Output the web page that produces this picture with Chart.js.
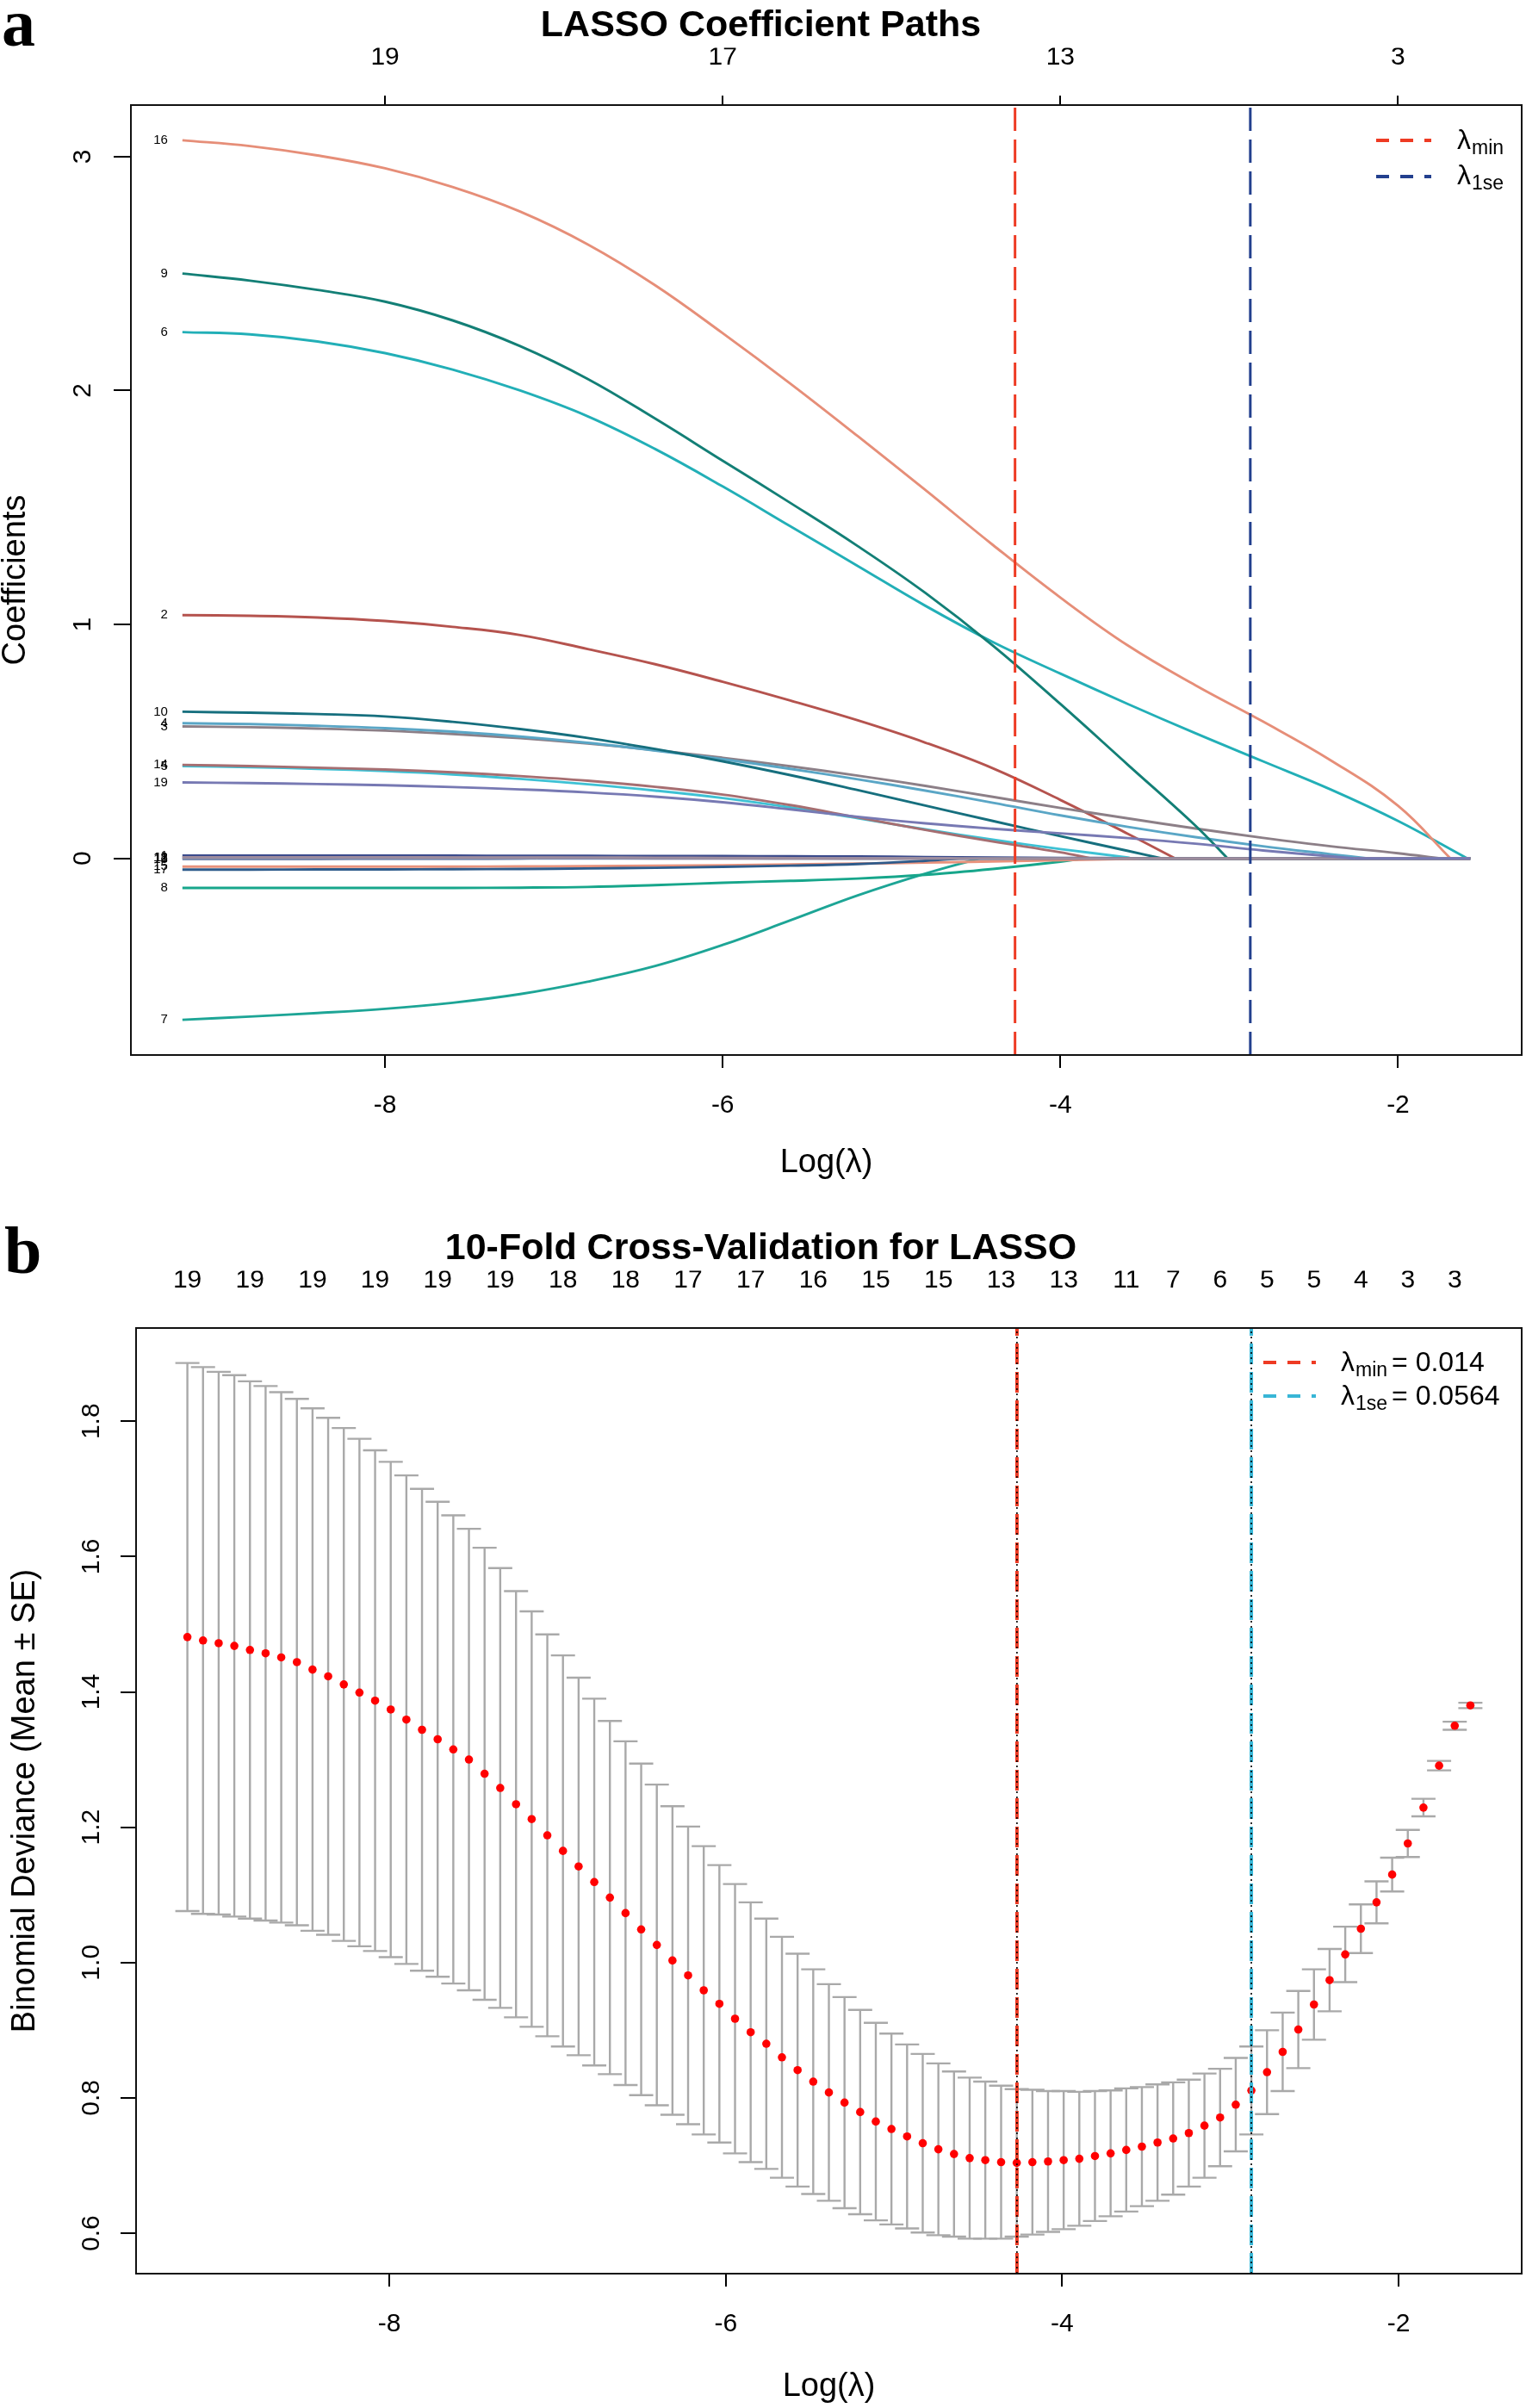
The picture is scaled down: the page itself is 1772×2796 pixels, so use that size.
<!DOCTYPE html>
<html>
<head>
<meta charset="utf-8">
<script src="https://cdn.jsdelivr.net/npm/chart.js@4.4.1/dist/chart.umd.min.js"></script>
<style>
html,body{margin:0;padding:0;background:#fff;}
body{width:1772px;height:2796px;position:relative;overflow:hidden;}
#wa{position:absolute;left:0;top:0;width:1772px;height:1400px;}
#wb{position:absolute;left:0;top:1400px;width:1772px;height:1396px;}
canvas{display:block;}
</style>
</head>
<body>
<div id="wa"><canvas id="ca" width="1772" height="1400" style="width:1772px;height:1400px"></canvas></div>
<div id="wb"><canvas id="cb" width="1772" height="1396" style="width:1772px;height:1396px"></canvas></div>
<script>
// ================= DATA: panel a (coefficient paths) =================
const pathKnotsLog = [-9.2,-8.8,-8.4,-8.0,-7.6,-7.2,-6.8,-6.4,-6.0,-5.6,-5.2,-4.8,-4.4,-4.0,-3.6,-3.2,-2.8,-2.4,-2.0];
const pathEndLog = -1.573;
const varNames = ['1','2','3','4','5','6','7','8','9','10','11','12','13','14','15','16','17','18','19'];
const varZeroLog = [-3.45,-3.32,-1.75,-2.18,-3.58,-1.59,-4.48,-3.87,-3.01,-3.40,-5.7,-6.4,-7.1,-3.82,-3.50,-1.69,-4.6,-5.3,-2.26];
const coefV1  = [0.012,0.012,0.012,0.012,0.012,0.011,0.011,0.010,0.010,0.009,0.008,0.006,0.004,0.002,0.001];
const coefV2  = [1.04,1.037,1.03,1.015,0.99,0.955,0.895,0.83,0.755,0.675,0.59,0.495,0.385,0.25,0.105];
const coefV3  = [0.564,0.561,0.555,0.546,0.532,0.514,0.491,0.463,0.43,0.394,0.354,0.31,0.263,0.216,0.171,0.128,0.088,0.052,0.022];
const coefV4  = [0.578,0.574,0.567,0.557,0.542,0.521,0.494,0.461,0.424,0.383,0.338,0.29,0.238,0.184,0.135,0.091,0.052,0.018];
const coefV5  = [0.395,0.390,0.383,0.373,0.359,0.34,0.317,0.29,0.258,0.218,0.172,0.124,0.08,0.04,0.004];
const coefV6  = [2.25,2.24,2.21,2.16,2.09,2.00,1.89,1.75,1.59,1.42,1.25,1.08,0.925,0.79,0.66,0.535,0.415,0.295,0.16];
const coefV7  = [-0.69,-0.676,-0.661,-0.643,-0.617,-0.58,-0.527,-0.46,-0.37,-0.265,-0.158,-0.065];
const coefV8  = [-0.126,-0.126,-0.126,-0.126,-0.126,-0.125,-0.122,-0.114,-0.104,-0.096,-0.086,-0.07,-0.045,-0.014];
const coefV9  = [2.50,2.47,2.43,2.38,2.30,2.19,2.05,1.88,1.70,1.52,1.335,1.135,0.91,0.66,0.40,0.14];
const coefV10 = [0.627,0.623,0.617,0.607,0.584,0.553,0.515,0.468,0.415,0.356,0.292,0.226,0.16,0.095,0.032];
const coefV11 = [0.002,0.002,0.002,0.002,0.002,0.002,0.002,0.001,0.001];
const coefV12 = [0.003,0.003,0.003,0.003,0.002,0.002,0.001];
const coefV13 = [-0.003,-0.003,-0.003,-0.002,-0.002,-0.001];
const coefV14 = [0.400,0.395,0.388,0.380,0.368,0.352,0.332,0.306,0.273,0.228,0.175,0.122,0.072,0.026];
const coefV15 = [-0.035,-0.035,-0.035,-0.035,-0.035,-0.034,-0.033,-0.031,-0.029,-0.026,-0.022,-0.018,-0.013,-0.008,-0.002];
const coefV16 = [3.07,3.045,3.005,2.95,2.87,2.765,2.625,2.45,2.245,2.03,1.805,1.575,1.34,1.115,0.91,0.74,0.585,0.42,0.225];
const coefV17 = [-0.048,-0.048,-0.047,-0.047,-0.046,-0.045,-0.043,-0.040,-0.036,-0.031,-0.024,-0.010];
const coefV18 = [0.005,0.005,0.005,0.005,0.004,0.004,0.004,0.003,0.002,0.001];
const coefV19 = [0.325,0.322,0.318,0.313,0.305,0.295,0.282,0.264,0.24,0.21,0.178,0.15,0.127,0.107,0.087,0.063,0.034,0.009];
const coefPaths = [coefV1,coefV2,coefV3,coefV4,coefV5,coefV6,coefV7,coefV8,coefV9,coefV10,
                   coefV11,coefV12,coefV13,coefV14,coefV15,coefV16,coefV17,coefV18,coefV19];
const coefXTicks = [-8,-6,-4,-2];
const coefTopLabels = ['19','17','13','3'];
const coefYTicks = [0,1,2,3];

// ================= DATA: panel b (10-fold CV) =================
const cvLogLambda = [-1.573,-1.666,-1.759,-1.852,-1.945,-2.038,-2.131,-2.224,-2.317,-2.410,
  -2.503,-2.596,-2.689,-2.782,-2.875,-2.968,-3.061,-3.154,-3.247,-3.340,
  -3.433,-3.526,-3.619,-3.712,-3.805,-3.898,-3.991,-4.084,-4.177,-4.270,
  -4.363,-4.457,-4.550,-4.643,-4.736,-4.829,-4.922,-5.015,-5.108,-5.201,
  -5.294,-5.387,-5.480,-5.573,-5.666,-5.759,-5.852,-5.945,-6.038,-6.131,
  -6.224,-6.317,-6.410,-6.503,-6.596,-6.689,-6.782,-6.875,-6.968,-7.061,
  -7.154,-7.247,-7.341,-7.434,-7.527,-7.620,-7.713,-7.806,-7.899,-7.992,
  -8.085,-8.178,-8.271,-8.364,-8.457,-8.550,-8.643,-8.736,-8.829,-8.922,
  -9.015,-9.108,-9.201];
const cvMean = [1.380,1.350,1.291,1.229,1.176,1.130,1.089,1.050,1.012,0.974,
  0.938,0.901,0.868,0.838,0.811,0.790,0.771,0.759,0.748,0.740,
  0.734,0.728,0.723,0.718,0.714,0.710,0.708,0.706,0.705,0.704,
  0.705,0.708,0.711,0.717,0.724,0.733,0.743,0.754,0.765,0.779,
  0.793,0.808,0.824,0.841,0.860,0.880,0.897,0.917,0.939,0.959,
  0.981,1.003,1.026,1.049,1.073,1.096,1.119,1.142,1.165,1.188,
  1.212,1.234,1.258,1.279,1.300,1.315,1.330,1.344,1.359,1.374,
  1.387,1.399,1.411,1.423,1.433,1.444,1.451,1.457,1.462,1.468,
  1.472,1.476,1.481];
const cvSE = [0.004,0.006,0.007,0.013,0.020,0.025,0.031,0.036,0.041,0.046,
  0.052,0.057,0.058,0.062,0.065,0.069,0.072,0.077,0.079,0.083,
  0.086,0.088,0.091,0.093,0.096,0.099,0.102,0.104,0.107,0.109,
  0.113,0.116,0.119,0.122,0.127,0.132,0.136,0.141,0.146,0.151,
  0.156,0.160,0.166,0.172,0.178,0.185,0.192,0.199,0.205,0.213,
  0.220,0.228,0.237,0.245,0.254,0.261,0.271,0.279,0.289,0.297,
  0.307,0.315,0.325,0.334,0.341,0.346,0.351,0.356,0.361,0.366,
  0.370,0.375,0.379,0.382,0.386,0.389,0.392,0.395,0.397,0.400,
  0.401,0.404,0.405];
const cvTopTickIndex = [82,78,74,70,66,62,58,54,50,46,42,38,34,30,26,22,19,16,13,10,7,4,1];
const cvTopTickLabels = ['19','19','19','19','19','19','18','18','17','17','16','15','15','13','13','11','7','6','5','5','4','3','3'];
const cvXTicks = [-8,-6,-4,-2];
const cvYTicks = [0.6,0.8,1.0,1.2,1.4,1.6,1.8];
const lambdaMin = 0.014;
const lambda1se = 0.0564;

// ================= STYLE =================
const SANS = '"Liberation Sans", Arial, Helvetica, sans-serif';
const SERIF = '"Liberation Serif", "Times New Roman", Times, serif';
const varColors = ['#3B4B8C','#B5534E','#8C7F87','#5AA6C6','#3EC1D4','#22AFB7','#1DA596','#17A68B','#137F76','#166F7E',
                   '#6A9CB6','#D7A3A3','#7C8AAE','#A66E71','#E8927C','#E68E78','#2E5B8B','#9E8C9D','#7779B3'];
Chart.defaults.font.family = SANS;
Chart.defaults.color = '#000';

// R-style 4% range extension
function rRange(lo, hi) { const d = (hi - lo) * 0.04; return [lo - d, hi + d]; }

// ---------- panel a datasets ----------
const datasetsA = [];
coefPaths.forEach((vals, k) => {
  const z = varZeroLog[k];
  const pts = [];
  pathKnotsLog.forEach((x, j) => { if (x < z && j < vals.length) pts.push({ x: x, y: vals[j] }); });
  pts.push({ x: z, y: 0 });
  datasetsA.push({ data: pts, borderColor: varColors[k], borderWidth: 2.9, pointRadius: 0, fill: false,
    tension: 0.4, order: 100 - k });
  datasetsA.push({ data: [{ x: z, y: 0 }, { x: pathEndLog, y: 0 }], borderColor: varColors[k], borderWidth: 2.9,
    pointRadius: 0, fill: false, tension: 0, order: 100 - k });
});
const allCoef = [].concat(...coefPaths, [0]);
const xRangeA = rRange(Math.min(...pathKnotsLog), pathEndLog);
const yRangeA = rRange(Math.min(...allCoef), Math.max(...allCoef));

// ---------- helpers ----------
function drawBox(ctx, a) {
  ctx.save(); ctx.strokeStyle = '#111'; ctx.lineWidth = 2;
  ctx.strokeRect(a.left, a.top, a.right - a.left, a.bottom - a.top); ctx.restore();
}
function drawRotYLabels(ctx, yScale, values, fmt, baseX) {
  ctx.save(); ctx.font = '30px ' + SANS; ctx.fillStyle = '#000';
  ctx.textAlign = 'center'; ctx.textBaseline = 'alphabetic';
  values.forEach(v => {
    const py = yScale.getPixelForValue(v);
    ctx.save(); ctx.translate(baseX, py); ctx.rotate(-Math.PI / 2); ctx.fillText(fmt(v), 0, 0); ctx.restore();
  });
  ctx.restore();
}
function vline(ctx, px, a, color, width, dash) {
  ctx.save(); ctx.strokeStyle = color; ctx.lineWidth = width; ctx.setLineDash(dash);
  ctx.beginPath(); ctx.moveTo(px, a.bottom); ctx.lineTo(px, a.top); ctx.stroke(); ctx.restore();
}
function legendItem(ctx, x0, x1, yLine, color, xText, yBase, sub, rest) {
  ctx.save();
  ctx.strokeStyle = color; ctx.lineWidth = 4; ctx.setLineDash([15, 13]);
  ctx.beginPath(); ctx.moveTo(x0, yLine); ctx.lineTo(x1, yLine); ctx.stroke();
  ctx.setLineDash([]);
  ctx.fillStyle = '#000'; ctx.textAlign = 'left'; ctx.textBaseline = 'alphabetic';
  ctx.font = '32px ' + SANS;
  ctx.fillText('λ', xText, yBase);
  let x = xText + ctx.measureText('λ').width + 1;
  ctx.font = '23px ' + SANS;
  ctx.fillText(sub, x, yBase + 6);
  x += ctx.measureText(sub).width + 5;
  if (rest) { ctx.font = '32px ' + SANS; ctx.fillText(rest, x, yBase); }
  ctx.restore();
}
function panelLetter(ctx, t, x, y) {
  ctx.save(); ctx.font = 'bold 78px ' + SERIF; ctx.fillStyle = '#000';
  ctx.textAlign = 'left'; ctx.textBaseline = 'alphabetic'; ctx.fillText(t, x, y); ctx.restore();
}

// ---------- panel a plugin ----------
const panelAPlugin = {
  id: 'panelA',
  afterDatasetsDraw(chart) {
    const { ctx, chartArea: a, scales } = chart;
    ctx.save();
    ctx.beginPath(); ctx.rect(a.left, a.top, a.right - a.left, a.bottom - a.top); ctx.clip();
    vline(ctx, scales.x.getPixelForValue(Math.log(lambdaMin)), a, '#EE3B24', 3, [27, 10]);
    vline(ctx, scales.x.getPixelForValue(Math.log(lambda1se)), a, '#23408E', 3, [27, 10]);
    ctx.restore();
  },
  afterDraw(chart) {
    const { ctx, chartArea: a, scales } = chart;
    drawBox(ctx, a);
    drawRotYLabels(ctx, scales.y, coefYTicks, v => String(v), a.left - 47);
    ctx.save(); ctx.font = '15px ' + SANS; ctx.fillStyle = '#000';
    ctx.textAlign = 'right'; ctx.textBaseline = 'middle';
    const lx = scales.x.getPixelForValue(pathKnotsLog[0]) - 17;
    coefPaths.forEach((vals, k) => { ctx.fillText(varNames[k], lx, scales.y.getPixelForValue(vals[0])); });
    ctx.restore();
    legendItem(ctx, a.right - 169, a.right - 105, a.top + 41, '#EE3B24', a.right - 75, a.top + 51, 'min', '');
    legendItem(ctx, a.right - 169, a.right - 105, a.top + 83, '#23408E', a.right - 75, a.top + 92, '1se', '');
    panelLetter(ctx, 'a', 2, 53);
  }
};

new Chart(document.getElementById('ca'), {
  type: 'line',
  data: { datasets: datasetsA },
  options: {
    responsive: false, animation: false, events: [],
    layout: { padding: { left: 0, right: 5, top: 0, bottom: 0 } },
    plugins: {
      legend: { display: false }, tooltip: { enabled: false },
      title: { display: true, text: 'LASSO Coefficient Paths', color: '#000',
        font: { size: 43, weight: 'bold', family: SANS }, padding: { top: 4, bottom: 0 } }
    },
    scales: {
      x: { type: 'linear', position: 'bottom', min: xRangeA[0], max: xRangeA[1], bounds: 'data',
        afterBuildTicks: s => { s.ticks = coefXTicks.map(v => ({ value: v })); },
        ticks: { font: { size: 30 }, color: '#000', padding: 26, autoSkip: false, maxRotation: 0, minRotation: 0,
          callback: v => String(v) },
        grid: { display: true, drawOnChartArea: false, drawTicks: true, tickLength: 15, color: '#000', lineWidth: 2 },
        border: { display: false },
        title: { display: true, text: 'Log(λ)', color: '#000', font: { size: 38, lineHeight: 1 }, padding: { top: 0, bottom: 30 } },
        afterFit: s => { s.height = 175; } },
      x2: { type: 'linear', position: 'top', min: xRangeA[0], max: xRangeA[1], bounds: 'data',
        afterBuildTicks: s => { s.ticks = coefXTicks.map(v => ({ value: v })); },
        ticks: { font: { size: 30 }, color: '#000', padding: 26, autoSkip: false, maxRotation: 0, minRotation: 0,
          callback: (v, i) => coefTopLabels[i] },
        grid: { display: true, drawOnChartArea: false, drawTicks: true, tickLength: 11, color: '#000', lineWidth: 2 },
        border: { display: false },
        afterFit: s => { s.height = 66.4; } },
      y: { type: 'linear', position: 'left', min: yRangeA[0], max: yRangeA[1], bounds: 'data',
        afterBuildTicks: s => { s.ticks = coefYTicks.map(v => ({ value: v })); },
        ticks: { display: false },
        grid: { display: true, drawOnChartArea: false, drawTicks: true, tickLength: 20, color: '#000', lineWidth: 2 },
        border: { display: false },
        title: { display: true, text: 'Coefficients', color: '#000', font: { size: 38, lineHeight: 1 }, padding: { top: 0, bottom: 0 } },
        afterFit: s => { s.width = 152; } }
    }
  },
  plugins: [panelAPlugin]
});

// ---------- panel b ----------
const cvLower = cvMean.map((m, i) => m - cvSE[i]);
const cvUpper = cvMean.map((m, i) => m + cvSE[i]);
const xRangeB = rRange(Math.min(...cvLogLambda), Math.max(...cvLogLambda));
const yRangeB = rRange(Math.min(...cvLower), Math.max(...cvUpper));

const panelBPlugin = {
  id: 'panelB',
  beforeDatasetsDraw(chart) {
    const { ctx, scales: { x, y } } = chart;
    ctx.save(); ctx.strokeStyle = '#A9A9A9'; ctx.lineWidth = 2.4;
    cvLogLambda.forEach((lx, i) => {
      const px = x.getPixelForValue(lx);
      const pu = y.getPixelForValue(cvUpper[i]);
      const pl = y.getPixelForValue(cvLower[i]);
      ctx.beginPath();
      ctx.moveTo(px, pu); ctx.lineTo(px, pl);
      ctx.moveTo(px - 14, pu); ctx.lineTo(px + 14, pu);
      ctx.moveTo(px - 14, pl); ctx.lineTo(px + 14, pl);
      ctx.stroke();
    });
    ctx.restore();
  },
  afterDatasetsDraw(chart) {
    const { ctx, chartArea: a, scales } = chart;
    ctx.save();
    ctx.beginPath(); ctx.rect(a.left, a.top, a.right - a.left, a.bottom - a.top); ctx.clip();
    const pMin = scales.x.getPixelForValue(Math.log(lambdaMin));
    const p1se = scales.x.getPixelForValue(Math.log(lambda1se));
    vline(ctx, pMin, a, '#EE3B24', 4, [24, 9]);
    vline(ctx, p1se, a, '#38B6D6', 4, [24, 9]);
    vline(ctx, pMin, a, '#000', 1.6, [2, 4]);
    vline(ctx, p1se, a, '#000', 1.6, [2, 4]);
    ctx.restore();
  },
  afterDraw(chart) {
    const { ctx, chartArea: a, scales } = chart;
    drawBox(ctx, a);
    drawRotYLabels(ctx, scales.y, cvYTicks, v => v.toFixed(1), a.left - 43);
    legendItem(ctx, a.right - 300, a.right - 239, a.top + 40, '#EE3B24', a.right - 210, a.top + 50, 'min', '= ' + lambdaMin);
    legendItem(ctx, a.right - 300, a.right - 239, a.top + 79, '#38B6D6', a.right - 210, a.top + 89, '1se', '= ' + lambda1se);
    panelLetter(ctx, 'b', 5, 78);
  }
};

new Chart(document.getElementById('cb'), {
  type: 'scatter',
  data: { datasets: [{ data: cvLogLambda.map((x, i) => ({ x: x, y: cvMean[i] })),
    pointRadius: 4.8, pointBackgroundColor: '#FF0000', pointBorderWidth: 0, pointBorderColor: '#FF0000', showLine: false }] },
  options: {
    responsive: false, animation: false, events: [],
    layout: { padding: { left: 0, right: 5, top: 0, bottom: 0 } },
    plugins: {
      legend: { display: false }, tooltip: { enabled: false },
      title: { display: true, text: '10-Fold Cross-Validation for LASSO', color: '#000',
        font: { size: 43, weight: 'bold', family: SANS }, padding: { top: 24, bottom: 0 } }
    },
    scales: {
      x: { type: 'linear', position: 'bottom', min: xRangeB[0], max: xRangeB[1], bounds: 'data',
        afterBuildTicks: s => { s.ticks = cvXTicks.map(v => ({ value: v })); },
        ticks: { font: { size: 30 }, color: '#000', padding: 26, autoSkip: false, maxRotation: 0, minRotation: 0,
          callback: v => String(v) },
        grid: { display: true, drawOnChartArea: false, drawTicks: true, tickLength: 15, color: '#000', lineWidth: 2 },
        border: { display: false },
        title: { display: true, text: 'Log(λ)', color: '#000', font: { size: 38, lineHeight: 1 }, padding: { top: 0, bottom: 5 } },
        afterFit: s => { s.height = 156; } },
      x2: { type: 'linear', position: 'top', min: xRangeB[0], max: xRangeB[1], bounds: 'data',
        afterBuildTicks: s => { s.ticks = cvTopTickIndex.map(i => ({ value: cvLogLambda[i] })); },
        ticks: { font: { size: 30 }, color: '#000', padding: 37, autoSkip: false, maxRotation: 0, minRotation: 0,
          callback: (v, i) => cvTopTickLabels[i] },
        grid: { display: false, drawOnChartArea: false, drawTicks: false },
        border: { display: false },
        afterFit: s => { s.height = 66.4; } },
      y: { type: 'linear', position: 'left', min: yRangeB[0], max: yRangeB[1], bounds: 'data',
        afterBuildTicks: s => { s.ticks = cvYTicks.map(v => ({ value: v })); },
        ticks: { display: false },
        grid: { display: true, drawOnChartArea: false, drawTicks: true, tickLength: 18, color: '#000', lineWidth: 2 },
        border: { display: false },
        title: { display: true, text: 'Binomial Deviance (Mean ± SE)', color: '#000', font: { size: 38, lineHeight: 1 }, padding: { top: 11, bottom: 0 } },
        afterFit: s => { s.width = 158; } }
    }
  },
  plugins: [panelBPlugin]
});
</script>
</body>
</html>
